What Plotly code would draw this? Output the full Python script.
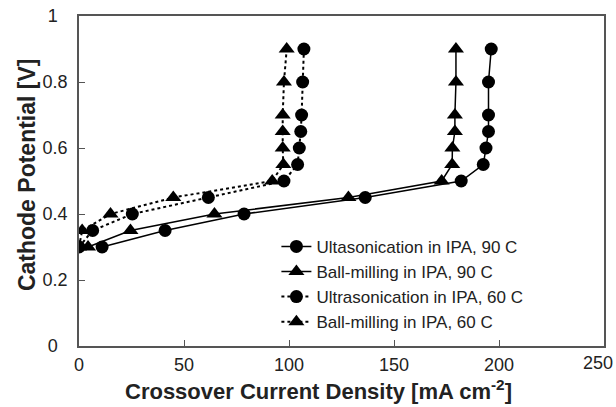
import plotly.graph_objects as go

potential = [0.3, 0.35, 0.4, 0.45, 0.5, 0.55, 0.6, 0.65, 0.7, 0.8, 0.9]
us_90 = [11, 41, 78.6, 136.3, 182, 192.5, 193.8, 195, 195, 195, 196.3]
bm_90 = [4.3, 24.5, 64.5, 128.3, 172.7, 177.7, 177.8, 179, 179, 179.5, 179.5]
us_60 = [0, 6.5, 25.4, 61.6, 97.6, 104.1, 104.9, 105.6, 106, 106.5, 107.1]
bm_60 = [0, 1.5, 15, 44.9, 92, 97.3, 97, 97, 97, 97.6, 98.9]

names = ["Ultasonication in IPA, 90 C", "Ball-milling in IPA, 90 C",
         "Ultrasonication in IPA, 60 C", "Ball-milling in IPA, 60 C"]
series = [us_90, bm_90, us_60, bm_60]
symbols = ["circle", "triangle-up", "circle", "triangle-up"]
dashes = ["solid", "solid", "dot", "dot"]
widths = [1.5, 1.5, 2, 2]

x_tickvals = [0, 50, 100, 150, 200]
x_ticktext = ["0", "50", "100", "150", "200"]
x_last_tick = 250
y_tickvals = [0, 0.2, 0.4, 0.6, 0.8, 1]
y_ticktext = ["0\u00a0\u00a0", "0.2", "0.4", "0.6", "0.8", "1\u00a0\u00a0"]

x_title = "<b>Crossover Current Density [mA cm<sup>-2</sup>]</b>"
y_title = "<b>Cathode Potential [V]</b>"

FONT = "Arial, Liberation Sans, sans-serif"

fig = go.Figure()
for name, xs, sym, dash, w in zip(names, series, symbols, dashes, widths):
    fig.add_trace(go.Scatter(
        x=xs, y=potential, name=name, mode="lines+markers",
        line=dict(color="black", width=w, dash=dash),
        marker=dict(symbol=sym, size=13 if sym == "circle" else 14, color="black"),
    ))

fig.update_layout(
    width=616, height=407,
    margin=dict(l=79, r=12, t=16, b=61, autoexpand=False),
    paper_bgcolor="white", plot_bgcolor="white",
    font=dict(family=FONT, size=18, color="#222"),
    showlegend=True,
    legend=dict(x=0.376, y=0.355, xanchor="left", yanchor="top",
                bgcolor="rgba(0,0,0,0)", font=dict(size=17, color="#222"),
                tracegroupgap=0),
    annotations=[
        dict(text=x_title, xref="paper", yref="paper", x=0.457, y=-0.133,
             xanchor="center", yanchor="middle", showarrow=False,
             font=dict(size=22, color="#222")),
        dict(text=y_title, xref="paper", yref="paper", x=-0.099, y=0.518,
             xanchor="center", yanchor="middle", showarrow=False, textangle=-90,
             font=dict(size=23, color="#222")),
        dict(text=str(x_last_tick), xref="x", yref="paper", x=x_last_tick, y=0,
             xanchor="center", yanchor="top", xshift=-6, yshift=-5,
             showarrow=False, font=dict(size=18, color="#222")),
    ],
)
fig.update_xaxes(
    range=[0, 250], tickvals=x_tickvals, ticktext=x_ticktext, automargin=False,
    showline=True, mirror=True, linecolor="#555", linewidth=1.5,
    ticks="inside", ticklen=6, tickcolor="#555", showgrid=False, zeroline=False,
    ticklabelstandoff=2,
)
fig.update_yaxes(
    range=[0, 1], tickvals=y_tickvals, ticktext=y_ticktext, automargin=False,
    showline=True, mirror=True, linecolor="#555", linewidth=1.5,
    ticks="inside", ticklen=6, tickcolor="#555", showgrid=False, zeroline=False,
    ticklabelstandoff=6,
)

fig.write_html("out.html")
